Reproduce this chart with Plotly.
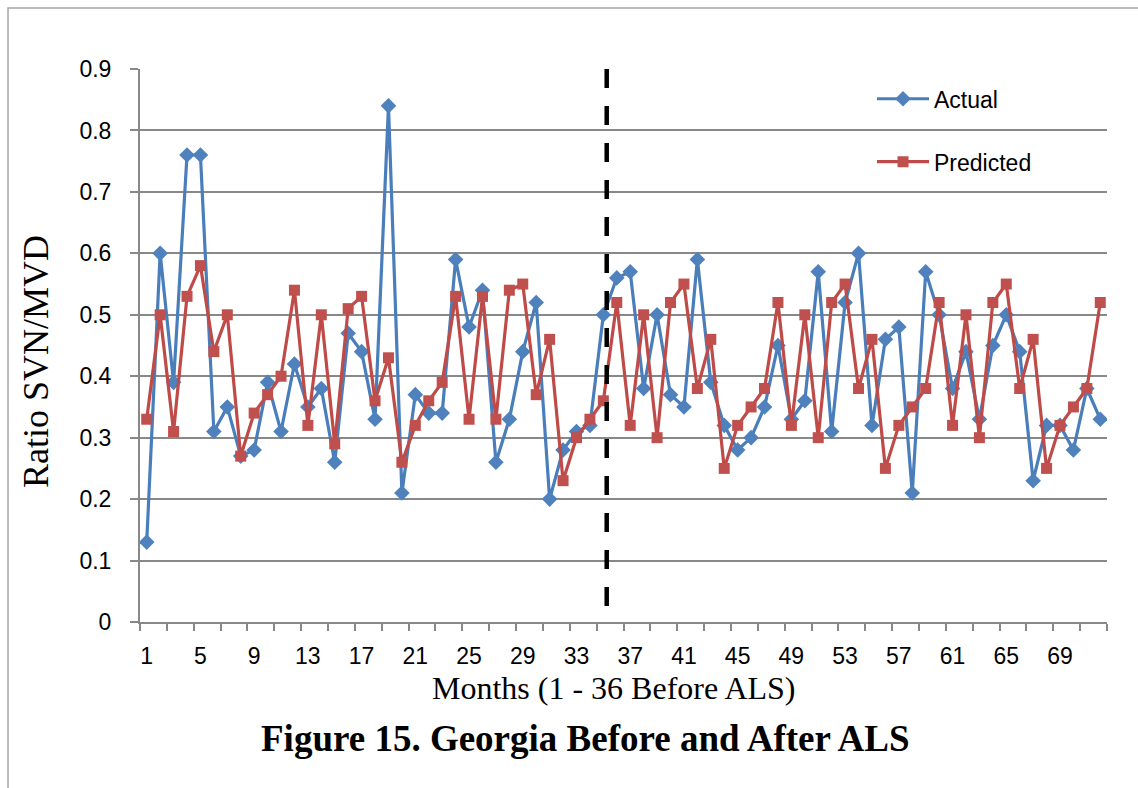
import plotly.graph_objects as go

months = list(range(1, 73))
actual = [0.13, 0.60, 0.39, 0.76, 0.76, 0.31, 0.35, 0.27, 0.28, 0.39, 0.31, 0.42, 0.35, 0.38, 0.26, 0.47, 0.44, 0.33,
          0.84, 0.21, 0.37, 0.34, 0.34, 0.59, 0.48, 0.54, 0.26, 0.33, 0.44, 0.52, 0.20, 0.28, 0.31, 0.32, 0.50, 0.56,
          0.57, 0.38, 0.50, 0.37, 0.35, 0.59, 0.39, 0.32, 0.28, 0.30, 0.35, 0.45, 0.33, 0.36, 0.57, 0.31, 0.52, 0.60,
          0.32, 0.46, 0.48, 0.21, 0.57, 0.50, 0.38, 0.44, 0.33, 0.45, 0.50, 0.44, 0.23, 0.32, 0.32, 0.28, 0.38, 0.33]
predicted = [0.33, 0.50, 0.31, 0.53, 0.58, 0.44, 0.50, 0.27, 0.34, 0.37, 0.40, 0.54, 0.32, 0.50, 0.29, 0.51, 0.53, 0.36,
             0.43, 0.26, 0.32, 0.36, 0.39, 0.53, 0.33, 0.53, 0.33, 0.54, 0.55, 0.37, 0.46, 0.23, 0.30, 0.33, 0.36, 0.52,
             0.32, 0.50, 0.30, 0.52, 0.55, 0.38, 0.46, 0.25, 0.32, 0.35, 0.38, 0.52, 0.32, 0.50, 0.30, 0.52, 0.55, 0.38,
             0.46, 0.25, 0.32, 0.35, 0.38, 0.52, 0.32, 0.50, 0.30, 0.52, 0.55, 0.38, 0.46, 0.25, 0.32, 0.35, 0.38, 0.52]
x_tick_labels = [1, 5, 9, 13, 17, 21, 25, 29, 33, 37, 41, 45, 49, 53, 57, 61, 65, 69]
y_ticks = [0, 0.1, 0.2, 0.3, 0.4, 0.5, 0.6, 0.7, 0.8, 0.9]
als_boundary = 35.25

GRID = "#888888"
fig = go.Figure()
fig.add_trace(go.Scatter(
    x=months, y=actual, name="Actual", mode="lines+markers",
    line=dict(color="#4A7EBB", width=3.2),
    marker=dict(symbol="diamond", size=12, color="#4F81BD"),
    legendgroup="a"))
fig.add_trace(go.Scatter(
    x=months, y=predicted, name="Predicted", mode="lines+markers",
    line=dict(color="#BE4B48", width=3.2),
    marker=dict(symbol="square", size=11, color="#C0504D"),
    legendgroup="p"))

fig.add_shape(type="line", xref="x", yref="y", x0=als_boundary, x1=als_boundary, y0=0.9, y1=0,
              line=dict(color="black", width=4.5, dash="19px,18px"))

# outer chart border
fig.add_shape(type="rect", xref="paper", yref="paper", x0=-0.1365, x1=1.2, y0=-0.6, y1=1.1103,
              line=dict(color="#A6A6A6", width=1.5), layer="below")

fig.update_layout(
    width=1138, height=788,
    margin=dict(l=140, r=31, t=69, b=166),
    paper_bgcolor="white", plot_bgcolor="white",
    font=dict(family="Liberation Sans, Arial", size=23, color="black"),
    showlegend=True,
    legend=dict(x=0.757, y=0.985, xanchor="left", yanchor="top", bgcolor="rgba(0,0,0,0)",
                font=dict(family="Liberation Sans, Arial", size=23), tracegroupgap=30,
                itemwidth=52),
    xaxis=dict(range=[0.5, 72.5], tickmode="array", tickvals=x_tick_labels,
               ticktext=[str(v) for v in x_tick_labels], ticks="", showgrid=False,
               showline=True, linecolor=GRID, linewidth=2, zeroline=False,
               ticklabelstandoff=12,
               minor=dict(tickmode="linear", tick0=0.5, dtick=2, ticks="outside", ticklen=7,
                          tickcolor=GRID, tickwidth=1.5, showgrid=False)),
    yaxis=dict(range=[0, 0.9], tickmode="array", tickvals=y_ticks,
               ticktext=["0" if v == 0 else f"{v:.1f}" for v in y_ticks],
               ticks="outside", ticklen=8, tickcolor=GRID, tickwidth=1.5,
               showgrid=True, gridcolor=GRID, gridwidth=1.5,
               showline=True, linecolor=GRID, linewidth=2, zeroline=False,
               ticklabelstandoff=14),
)

fig.add_annotation(text="Ratio SVN/MVD", xref="paper", yref="paper",
                   x=(36 - 140) / 967, y=(622 - 362) / 553, textangle=-90, showarrow=False,
                   font=dict(family="Liberation Serif, Times New Roman", size=36, color="black"),
                   xanchor="center", yanchor="middle")
fig.add_annotation(text="Months (1 - 36 Before ALS)", xref="paper", yref="paper",
                   x=(614 - 140) / 967, y=(622 - 688) / 553, showarrow=False,
                   font=dict(family="Liberation Serif, Times New Roman", size=32, color="black"),
                   xanchor="center", yanchor="middle")
fig.add_annotation(text="<b>Figure 15. Georgia Before and After ALS</b>", xref="paper", yref="paper",
                   x=(585 - 140) / 967, y=(622 - 738) / 553, showarrow=False,
                   font=dict(family="Liberation Serif, Times New Roman", size=37, color="black"),
                   xanchor="center", yanchor="middle")

fig.write_html("out.html", config={"displayModeBar": False},
               post_script="document.body.style.margin='0';document.body.style.overflow='hidden';")
